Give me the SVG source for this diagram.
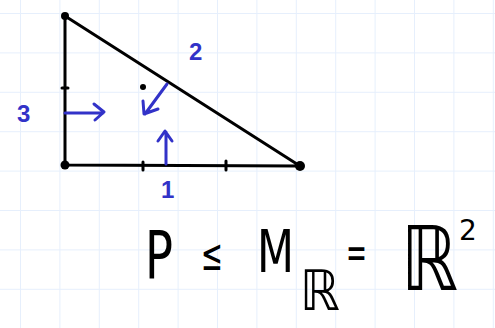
<svg xmlns="http://www.w3.org/2000/svg" width="495" height="328" viewBox="0 0 495 328">
<defs>
<pattern id="grid" x="20" y="13" width="39.4" height="39.4" patternUnits="userSpaceOnUse">
<path d="M0 0 H39.4 M0 0 V39.4" fill="none" stroke="#e6effc" stroke-width="2"/>
</pattern>
<style>
.edge{stroke:#000;stroke-width:3;fill:none;stroke-linecap:round;stroke-linejoin:round}
.arr{stroke:#3232c8;stroke-width:3;fill:none;stroke-linecap:round;stroke-linejoin:round}
.lbl{fill:#3232c8;font-family:"Liberation Sans",sans-serif;font-size:24px;font-weight:bold}
.eq{fill:#000;font-family:"DejaVu Sans","Liberation Sans",sans-serif}
</style>
</defs>
<rect width="495" height="328" fill="#fff"/>
<rect width="495" height="328" fill="url(#grid)"/>
<g id="triangle">
<path class="edge" d="M65 16 L65 165 L300 166 Z"/>
<circle cx="65" cy="16" r="4" fill="#000"/>
<circle cx="65" cy="165" r="4.5" fill="#000"/>
<circle cx="300" cy="166" r="5" fill="#000"/>
<path class="edge" d="M62 88 H68 M143 162 V170 M226 161 V170"/>
<circle cx="143" cy="87" r="3" fill="#000"/>
</g>
<g id="connectors">
<g id="arrow3"><path class="arr" d="M65 113 H103 M94 104 L104 112 L95 120"/></g>
<g id="arrow2"><path class="arr" d="M167 84 L145 114 M143 101 L144 114 L158 109"/></g>
<g id="arrow1"><path class="arr" d="M166 164 V132 M158 141 L165 131 L172 141"/></g>
</g>
<g id="labels">
<text class="lbl" x="17" y="122">3</text>
<text class="lbl" x="189" y="60">2</text>
<text class="lbl" x="161" y="198">1</text>
</g>
<g id="formula">
<text class="eq" x="145" y="278" font-size="66" textLength="28" lengthAdjust="spacingAndGlyphs">P</text>
<text class="eq" x="201" y="270" font-size="44" textLength="22" lengthAdjust="spacingAndGlyphs">≤</text>
<text class="eq" x="257" y="272" font-size="58" textLength="37" lengthAdjust="spacingAndGlyphs">M</text>
<text class="eq" x="300" y="310" font-size="56" textLength="40" lengthAdjust="spacingAndGlyphs">ℝ</text>
<text class="eq" x="346" y="268" font-size="44" textLength="21" lengthAdjust="spacingAndGlyphs">=</text>
<text class="eq" font-size="72" transform="translate(401 290) scale(1 1.24)">ℝ</text>
<text class="eq" x="459" y="240" font-size="28">2</text>
</g>
</svg>
